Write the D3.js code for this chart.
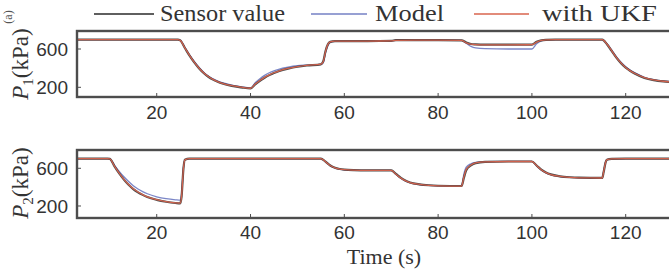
<!DOCTYPE html>
<html>
<head>
<meta charset="utf-8">
<script src="https://cdn.jsdelivr.net/npm/d3@7"></script>
<style>
  html, body { margin: 0; padding: 0; background: #fff; }
  svg { display: block; }
</style>
</head>
<body>
<svg id="root"></svg>
<script>
// time stamps (s) and pressures (kPa)
const t1 = [3,10,20,24.5,25, 26,27,28,29,30, 31,32,33,34,36, 38,40,41,42,43, 44,45,46,48,50,
  52,55,55.5,56,56.5, 57,58,60,65,70, 71,75,80,85,86, 87,88,90,95,100, 101,102,103,105,110,
  115,116,117,118,119, 120,121,122,124,126, 128,130];
const sensor1 = [697,697,697,697,690, 610,530,460,400,350, 310,280,258,240,215, 200,188,230,268,300,
  327,350,368,395,415, 428,440,470,580,650, 675,682,683,683,685, 692,693,693,690,668,
  652,648,645,645,646, 675,690,695,697,697, 697,650,580,510,452, 405,370,342,298,275, 262,255];
const model1 = [697,697,697,697,692, 615,540,470,410,358, 318,288,265,248,222, 205,192,248,290,325,
  352,372,388,410,425, 432,440,455,560,635, 668,680,683,683,685, 692,693,693,690,660,
  628,612,603,600,600, 655,685,695,697,697, 697,655,590,520,462, 415,378,350,305,280, 266,258];
const ukf1 = [697,697,697,697,690, 612,533,462,402,352, 312,282,260,242,217, 202,190,235,272,304,
  330,352,370,397,416, 429,441,466,575,648, 674,682,683,683,685, 691,693,693,690,665,
  650,646,644,644,645, 672,689,695,697,697, 697,652,583,513,455, 408,372,344,300,277, 263,256];

const t2 = [3,9.5,10,11,12, 13,14,15,16,17, 18,20,22,24,25, 25.3,25.7,26,27,30, 40,50,55,56,57,
  58,59,60,62,65, 70,71,72,73,74, 76,78,80,85,85.5, 86,87,88,90,95, 100,101,102,103,104,
  106,108,110,115,115.3, 115.7,116,117,120,125, 130];
const sensor2 = [703,703,700,620,545, 480,425,380,345,318, 295,265,245,232,228, 300,600,690,703,703,
  703,703,703,670,630, 605,592,585,580,578, 578,540,500,470,450, 430,420,415,412,500,
  580,630,655,668,672, 672,630,585,555,535, 515,505,500,498,560, 660,690,700,702,702, 702];
const model2 = [703,703,700,632,568, 510,460,415,380,352, 330,298,278,266,262, 330,610,688,703,703,
  703,703,703,668,628, 603,591,584,580,578, 578,536,496,467,448, 428,418,413,410,540,
  612,648,662,670,673, 673,628,582,552,532, 512,503,498,496,570, 665,692,700,702,702, 702];
const ukf2 = [703,703,700,622,548, 483,428,383,348,320, 297,267,247,234,230, 305,602,690,703,703,
  703,703,703,669,629, 604,592,585,580,578, 578,538,498,469,449, 429,419,414,411,510,
  588,634,657,669,672, 672,629,584,554,534, 514,504,499,497,563, 662,691,700,702,702, 702];

const xTicks = [20, 40, 60, 80, 100, 120];
const yTicks = [200, 600];
const seriesNames = ["Sensor value", "Model", "with UKF"];
const seriesColors = ["#2a2a2a", "#7480c4", "#d8644e"];

const width = 669, height = 274;
const svg = d3.select("svg#root").attr("width", width).attr("height", height);

const x = d3.scaleLinear().domain([3, 130]).range([77, 672.6]);

// two panels
const panels = [
  { t: t1, series: [sensor1, model1, ukf1], y: d3.scaleLinear().domain([98.7, 788]).range([97, 31]),
    top: 31, bottom: 97, label: "1", labelY: 64, tickY: 119 },
  { t: t2, series: [sensor2, model2, ukf2], y: d3.scaleLinear().domain([72.7, 794]).range([218, 150]),
    top: 150, bottom: 218, label: "2", labelY: 183, tickY: 239 },
];

const frameColor = "#4d4d4d";

panels.forEach((p, i) => {
  const g = svg.append("g");
  const clipId = "clip" + i;
  g.append("clipPath").attr("id", clipId)
    .append("rect")
    .attr("x", x.range()[0]).attr("y", p.top)
    .attr("width", x.range()[1] - x.range()[0]).attr("height", p.bottom - p.top);

  const line = (vals) => d3.line()
    .x((d, k) => x(p.t[k]))
    .y((d) => p.y(d))
    .curve(d3.curveMonotoneX)(vals);

  const lines = g.append("g").attr("clip-path", `url(#${clipId})`);
  // model first (light), sensor, then ukf on top
  [1, 0, 2].forEach((s) => {
    lines.append("path")
      .attr("d", line(p.series[s]))
      .attr("fill", "none")
      .attr("stroke", seriesColors[s])
      .attr("stroke-width", s === 0 ? 2.2 : 1.3)
      .attr("stroke-opacity", s === 0 ? 0.85 : 0.95);
  });

  // inward ticks
  g.selectAll(".xt").data(xTicks).join("line")
    .attr("x1", (d) => x(d)).attr("x2", (d) => x(d))
    .attr("y1", p.bottom).attr("y2", p.bottom - 4)
    .attr("stroke", frameColor).attr("stroke-width", 1);
  g.selectAll(".yt").data(yTicks).join("line")
    .attr("x1", x.range()[0]).attr("x2", x.range()[0] + 4)
    .attr("y1", (d) => p.y(d)).attr("y2", (d) => p.y(d))
    .attr("stroke", frameColor).attr("stroke-width", 1);

  // frame
  g.append("rect")
    .attr("x", x.range()[0]).attr("y", p.top)
    .attr("width", x.range()[1] - x.range()[0] + 5).attr("height", p.bottom - p.top)
    .attr("fill", "none").attr("stroke", frameColor).attr("stroke-width", 2.4);

  // tick labels
  g.selectAll(".xl").data(xTicks).join("text")
    .attr("x", (d) => x(d)).attr("y", p.tickY)
    .attr("text-anchor", "middle")
    .attr("font-family", "Liberation Sans, Arial, sans-serif")
    .attr("font-size", "19px").attr("fill", "#333")
    .text((d) => d);
  g.selectAll(".yl").data(yTicks).join("text")
    .attr("x", 68).attr("y", (d) => p.y(d) + 7)
    .attr("text-anchor", "end")
    .attr("font-family", "Liberation Sans, Arial, sans-serif")
    .attr("font-size", "19px").attr("fill", "#333")
    .text((d) => d);

  // y label  P_i (kPa)
  const lab = g.append("text")
    .attr("transform", `translate(28,${p.labelY}) rotate(-90)`)
    .attr("text-anchor", "middle")
    .attr("font-family", "Liberation Serif, DejaVu Serif, serif")
    .attr("font-size", "23px").attr("fill", "#333");
  lab.append("tspan").attr("font-style", "italic").text("P");
  lab.append("tspan").attr("font-size", "15px").attr("dy", 5).text(p.label);
  lab.append("tspan").attr("dy", -5).text("(kPa)");
});

// x axis title
svg.append("text")
  .attr("x", 384).attr("y", 264)
  .attr("text-anchor", "middle")
  .attr("font-family", "Liberation Serif, DejaVu Serif, serif")
  .attr("font-size", "22px").attr("fill", "#333")
  .text("Time (s)");

// small "(a)" at the left edge
svg.append("text")
  .attr("transform", "translate(12,17) rotate(-90)")
  .attr("text-anchor", "middle")
  .attr("font-family", "Liberation Serif, serif")
  .attr("font-size", "12px").attr("fill", "#555")
  .text("(a)");

// legend
const legendPos = [
  { x1: 94, x2: 154, tx: 160, tw: 125 },
  { x1: 311, x2: 367, tx: 375, tw: 69 },
  { x1: 474, x2: 529, tx: 542, tw: 115 },
];
const legend = svg.append("g");
seriesNames.forEach((name, i) => {
  const lp = legendPos[i];
  legend.append("line")
    .attr("x1", lp.x1).attr("x2", lp.x2).attr("y1", 14).attr("y2", 14)
    .attr("stroke", seriesColors[i]).attr("stroke-width", 1.6);
  legend.append("text")
    .attr("x", lp.tx).attr("y", 21)
    .attr("font-family", "Liberation Serif, DejaVu Serif, serif")
    .attr("font-size", "23px").attr("fill", "#333")
    .attr("textLength", lp.tw).attr("lengthAdjust", "spacingAndGlyphs")
    .text(name);
});
</script>
</body>
</html>
